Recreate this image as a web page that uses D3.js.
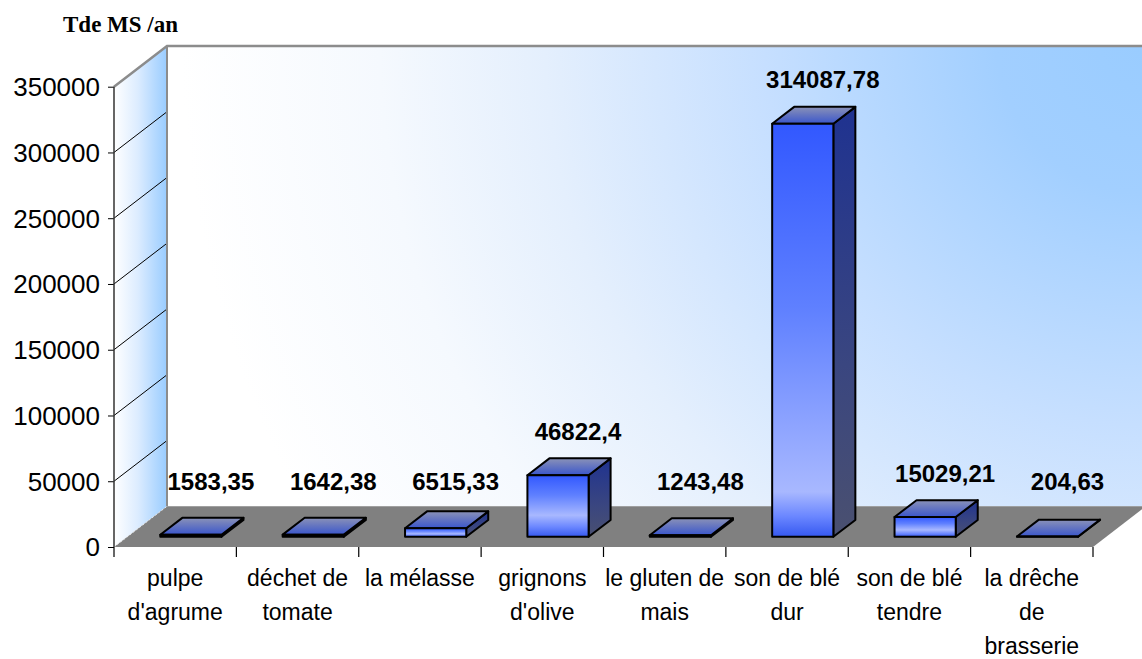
<!DOCTYPE html>
<html>
<head>
<meta charset="utf-8">
<script src="https://cdn.jsdelivr.net/npm/d3@7"></script>
<style>
  html, body { margin: 0; padding: 0; background: #ffffff; }
  svg { display: block; }
</style>
</head>
<body>
<svg id="chart" width="1142" height="659"></svg>
<script>
// Production by residue type (tonnes of dry matter per year)
const categories = [
  "pulpe d'agrume", "déchet de tomate", "la mélasse", "grignons d'olive",
  "le gluten de mais", "son de blé dur", "son de blé tendre", "la drêche de brasserie"
];
const categoryLines = [
  ["pulpe", "d'agrume"],
  ["déchet de", "tomate"],
  ["la mélasse"],
  ["grignons", "d'olive"],
  ["le gluten de", "mais"],
  ["son de blé", "dur"],
  ["son de blé", "tendre"],
  ["la drêche", "de", "brasserie"]
];
const values = [1583.35, 1642.38, 6515.33, 46822.4, 1243.48, 314087.78, 15029.21, 204.63];
const valueLabels = ["1583,35", "1642,38", "6515,33", "46822,4", "1243,48", "314087,78", "15029,21", "204,63"];
const yTicks = [0, 50000, 100000, 150000, 200000, 250000, 300000, 350000];
const yTitle = "Tde MS /an";

// ---- layout of the 3D box ----
const front = { left: 114, right: 1093, bottom: 547, top: 86.7 };
const depth = { dx: 53, dy: -40.7 };      // offset from front plane to back wall
const barZ = 0.25;                         // front face of the bars, as a fraction of depth
const barD = 0.415;                        // bar thickness, as a fraction of depth

const svg = d3.select("#chart");
const defs = svg.append("defs");

const x = d3.scaleBand().domain(categories).range([front.left, front.right]).padding(0);
const y = d3.scaleLinear().domain([0, 350000]).range([front.bottom, front.top]);

// ---- gradients ----
const wallGrad = defs.append("radialGradient").attr("id", "wallGrad")
  .attr("gradientUnits", "userSpaceOnUse").attr("cx", 1150).attr("cy", 40).attr("r", 1100);
[[0, "#99ccff"], [0.14, "#a2cfff"], [0.35, "#c6dfff"], [0.55, "#e4effd"], [0.7, "#f5f9fe"], [0.88, "#ffffff"]]
  .forEach(([o, c]) => wallGrad.append("stop").attr("offset", o).attr("stop-color", c));

const sideWallGrad = defs.append("linearGradient").attr("id", "sideWallGrad")
  .attr("x1", 0).attr("y1", 0).attr("x2", 1).attr("y2", 0);
[[0, "#ffffff"], [0.45, "#dcecff"], [1, "#99ccff"]]
  .forEach(([o, c]) => sideWallGrad.append("stop").attr("offset", o).attr("stop-color", c));

const sideGrad = defs.append("linearGradient").attr("id", "barSide")
  .attr("x1", 0).attr("y1", 0).attr("x2", 0).attr("y2", 1);
[[0, "#1f3290"], [0.6, "#3a4680"], [1, "#4a5070"]]
  .forEach(([o, c]) => sideGrad.append("stop").attr("offset", o).attr("stop-color", c));

const topGrad = defs.append("linearGradient").attr("id", "barTop")
  .attr("x1", 0).attr("y1", 0).attr("x2", 0).attr("y2", 1);
[[0, "#8a92b8"], [0.45, "#6676c0"], [1, "#3a56cc"]]
  .forEach(([o, c]) => topGrad.append("stop").attr("offset", o).attr("stop-color", c));

// ---- walls and floor ----
const fl = front.left, fr = front.right, fb = front.bottom, ft = front.top;
const bx = fl + depth.dx, by = fb + depth.dy, byTop = ft + depth.dy;
const pts = a => a.map(p => p.join(",")).join(" ");

// back wall
svg.append("polygon")
  .attr("points", pts([[bx, byTop], [fr + depth.dx, byTop], [fr + depth.dx, by], [bx, by]]))
  .attr("fill", "url(#wallGrad)");
// side wall
svg.append("polygon")
  .attr("points", pts([[fl, ft], [bx, byTop], [bx, by], [fl, fb]]))
  .attr("fill", "url(#sideWallGrad)");
// floor
svg.append("polygon")
  .attr("points", pts([[fl, fb], [fr, fb], [fr + depth.dx, by], [bx, by]]))
  .attr("fill", "#808080");
svg.append("line")
  .attr("x1", fl).attr("y1", fb).attr("x2", bx).attr("y2", by)
  .attr("stroke", "#e8e8e8").attr("stroke-width", 1).attr("stroke-dasharray", "2,2");

// gridlines on the side wall
svg.append("g").selectAll("line").data(yTicks.filter(d => d > 0 && d < 350000)).join("line")
  .attr("x1", fl).attr("y1", d => y(d))
  .attr("x2", bx).attr("y2", d => y(d) + depth.dy)
  .attr("stroke", "#000").attr("stroke-width", 1);

// wall outlines
svg.append("path")
  .attr("d", `M${fl},${ft} L${bx},${byTop} L${fr + depth.dx + 10},${byTop}`)
  .attr("fill", "none").attr("stroke", "#8c8c8c").attr("stroke-width", 2.5);
svg.append("line")
  .attr("x1", bx).attr("y1", byTop).attr("x2", bx).attr("y2", by)
  .attr("stroke", "#8c8c8c").attr("stroke-width", 2);

// ---- y axis ----
const yAxis = svg.append("g")
  .attr("transform", `translate(${fl},0)`)
  .call(d3.axisLeft(y).tickValues(yTicks).tickSize(6).tickPadding(8).tickFormat(d => String(d)));
yAxis.select(".domain").remove();
yAxis.selectAll(".tick line").attr("stroke", "#000");
yAxis.selectAll(".tick text")
  .attr("font-family", "'Liberation Sans', Arial, sans-serif")
  .attr("font-size", 26).attr("fill", "#000").attr("dy", "0.34em");
svg.append("line")
  .attr("x1", fl).attr("y1", ft).attr("x2", fl).attr("y2", fb)
  .attr("stroke", "#333").attr("stroke-width", 1.5);

// ---- x axis: labels centred on each band, ticks at band edges ----
const xAxis = svg.append("g")
  .attr("transform", `translate(0,${fb})`)
  .call(d3.axisBottom(x).tickSize(0).tickFormat(() => ""));
xAxis.select(".domain").remove();
xAxis.selectAll(".tick").each(function(d) {
  const i = categories.indexOf(d);
  const t = d3.select(this).select("text")
    .attr("font-family", "'Liberation Sans', Arial, sans-serif")
    .attr("font-size", 23).attr("fill", "#000")
    .attr("y", 0).attr("dy", null);
  categoryLines[i].forEach((line, k) => {
    t.append("tspan").attr("x", 0).attr("y", 39 + k * 34).text(line);
  });
});
const edges = categories.map(c => x(c)).concat([x.range()[1]]);
svg.append("g").selectAll("line").data(edges).join("line")
  .attr("x1", d => d).attr("x2", d => d)
  .attr("y1", fb).attr("y2", fb + 10)
  .attr("stroke", "#000").attr("stroke-width", 1.2);

// ---- 3D bars ----
const bw = x.bandwidth() * 0.5;
const zx = barZ * depth.dx, zy = barZ * depth.dy;
const ddx = barD * depth.dx, ddy = barD * depth.dy;
const barLeft = d => x(d) + x.bandwidth() * 0.27 + zx;

const bars = svg.append("g").selectAll("g").data(categories).join("g");
bars.each(function(c, i) {
  const g = d3.select(this);
  const x0 = barLeft(c), x1 = x0 + bw;
  const yb = y(0) + zy, yt = y(values[i]) + zy;
  const h = Math.max(yb - yt, 0.5);

  // front face shading: bright blue at the top, a pale band in the lower part
  const light = 1 - Math.min(0.35 * h, 45) / h;
  const fg = defs.append("linearGradient").attr("id", "barFront" + i)
    .attr("gradientUnits", "userSpaceOnUse")
    .attr("x1", 0).attr("y1", yt).attr("x2", 0).attr("y2", yt + h);
  [[0, "#3258ff"], [light * 0.5, "#5f80ff"], [light, "#a8b8ff"], [light + (1 - light) * 0.55, "#6a86ff"], [1, "#3558f0"]]
    .forEach(([o, col]) => fg.append("stop").attr("offset", o).attr("stop-color", col));

  const stroke = { stroke: "#000", "stroke-width": 2, "stroke-linejoin": "round" };
  const side = g.append("polygon")
    .attr("points", pts([[x1, yt], [x1 + ddx, yt + ddy], [x1 + ddx, yb + ddy], [x1, yb]]))
    .attr("fill", "url(#barSide)");
  const topF = g.append("polygon")
    .attr("points", pts([[x0, yt], [x0 + ddx, yt + ddy], [x1 + ddx, yt + ddy], [x1, yt]]))
    .attr("fill", "url(#barTop)");
  const frontF = g.append("polygon")
    .attr("points", pts([[x0, yt], [x1, yt], [x1, yb], [x0, yb]]))
    .attr("fill", `url(#barFront${i})`);
  [side, topF, frontF].forEach(s => Object.entries(stroke).forEach(([k, v]) => s.attr(k, v)));
});

// value labels
svg.append("g").selectAll("text").data(categories).join("text")
  .attr("x", (c) => barLeft(c) + bw / 2 + 20)
  .attr("y", (c, i) => Math.min(y(values[i]) + zy + ddy - 27, 481) + 8.5)
  .attr("text-anchor", "middle")
  .attr("font-family", "'Liberation Sans', Arial, sans-serif")
  .attr("font-weight", "bold").attr("font-size", 24).attr("fill", "#000")
  .text((c, i) => valueLabels[i]);

// axis title
svg.append("text")
  .attr("x", 63).attr("y", 32)
  .attr("font-family", "'Liberation Serif', 'Times New Roman', serif")
  .attr("font-weight", "bold").attr("font-size", 23).attr("fill", "#000")
  .text(yTitle);
</script>
</body>
</html>
